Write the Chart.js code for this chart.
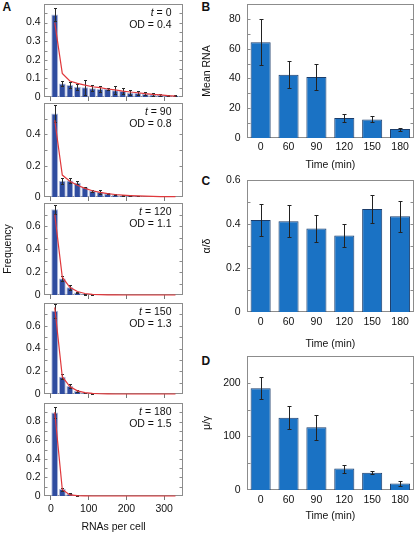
<!DOCTYPE html>
<html>
<head>
<meta charset="utf-8">
<script src="https://cdn.jsdelivr.net/npm/chart.js@4.4.0/dist/chart.umd.min.js"></script>
<style>
  body { margin: 0; background: #fff; width: 419px; height: 534px; position: relative; overflow: hidden; }
  canvas { position: absolute; }
  .lbl { position: absolute; font: bold 12px 'Liberation Sans', Arial, sans-serif; line-height: 12px; color: #111; }
</style>
</head>
<body>
<div class="lbl" style="left:2.5px;top:1px">A</div>
<div class="lbl" style="left:201.5px;top:1px">B</div>
<div class="lbl" style="left:201.5px;top:174.5px">C</div>
<div class="lbl" style="left:201.5px;top:354.5px">D</div>

<canvas id="a1" width="186" height="104" style="left:0;top:1px"></canvas>
<canvas id="a2" width="186" height="105" style="left:0;top:100px"></canvas>
<canvas id="a3" width="186" height="103" style="left:0;top:200px"></canvas>
<canvas id="a4" width="186" height="102" style="left:0;top:300px"></canvas>
<canvas id="a5" width="186" height="133" style="left:0;top:400px"></canvas>
<canvas id="b" width="223" height="171" style="left:196px;top:0"></canvas>
<canvas id="c" width="223" height="180" style="left:196px;top:170px"></canvas>
<canvas id="d" width="223" height="170" style="left:196px;top:352px"></canvas>

<script>
// histogram bins (RNAs per cell)
const bins = [10, 30, 50, 70, 90, 110, 130, 150, 170, 190, 210, 230, 250, 270, 290, 310, 330];
const rnaTicks = [0, 100, 200, 300];

// t = 0, OD = 0.4
const freqT0 = [0.444, 0.073, 0.064, 0.055, 0.052, 0.047, 0.043, 0.043, 0.036, 0.032, 0.023, 0.021, 0.018, 0.014, 0.011, 0.009, 0.007];
const errT0  = [0.035, 0.015, 0.014, 0.016, 0.04, 0.015, 0.018, 0.008, 0.022, 0.014, 0.012, 0.01, 0.008, 0.006, 0.005, 0.004, 0.003];
const fitT0  = [0.40, 0.127, 0.086, 0.073, 0.064, 0.055, 0.05, 0.043, 0.038, 0.032, 0.027, 0.023, 0.018, 0.014, 0.011, 0.007, 0.005];
const ticksT0 = [0, 0.1, 0.2, 0.3, 0.4];

// t = 90, OD = 0.8
const freqT90 = [0.533, 0.104, 0.106, 0.091, 0.062, 0.04, 0.032, 0.022, 0.015, 0.01, 0.008, 0.006, 0.004, 0.003, 0.002, 0.002, 0.001];
const errT90  = [0.053, 0.02, 0.015, 0.01, 0.005, 0.006, 0.01, 0.004, 0.003, 0.003, 0.002, 0.002, 0, 0, 0, 0, 0];
const fitT90  = [0.49, 0.14, 0.10, 0.075, 0.055, 0.04, 0.03, 0.022, 0.016, 0.012, 0.009, 0.007, 0.005, 0.004, 0.003, 0.002, 0.002];
const ticksT90 = [0, 0.2, 0.4];

// t = 120, OD = 1.1
const freqT120 = [0.745, 0.143, 0.067, 0.022, 0.008, 0.004, 0.002, 0.001, 0.001, 0, 0, 0, 0, 0, 0, 0, 0];
const errT120  = [0.04, 0.02, 0.02, 0.008, 0.004, 0.002, 0, 0, 0, 0, 0, 0, 0, 0, 0, 0, 0];
const fitT120  = [0.70, 0.155, 0.067, 0.03, 0.013, 0.006, 0.003, 0.001, 0.001, 0, 0, 0, 0, 0, 0, 0, 0];
const ticksT120 = [0, 0.2, 0.4, 0.6];

// t = 150, OD = 1.3
const freqT150 = [0.731, 0.152, 0.07, 0.026, 0.009, 0.004, 0.002, 0.001, 0, 0, 0, 0, 0, 0, 0, 0, 0];
const errT150  = [0.06, 0.02, 0.015, 0.01, 0.004, 0.002, 0, 0, 0, 0, 0, 0, 0, 0, 0, 0, 0];
const fitT150  = [0.76, 0.152, 0.065, 0.028, 0.012, 0.005, 0.002, 0.001, 0, 0, 0, 0, 0, 0, 0, 0, 0];
const ticksT150 = [0, 0.2, 0.4, 0.6];

// t = 180, OD = 1.5
const freqT180 = [0.897, 0.074, 0.025, 0.007, 0.002, 0.001, 0, 0, 0, 0, 0, 0, 0, 0, 0, 0, 0];
const errT180  = [0.06, 0.015, 0.008, 0.003, 0, 0, 0, 0, 0, 0, 0, 0, 0, 0, 0, 0, 0];
const fitT180  = [0.90, 0.07, 0.012, 0.003, 0.001, 0, 0, 0, 0, 0, 0, 0, 0, 0, 0, 0, 0];
const ticksT180 = [0, 0.2, 0.4, 0.6, 0.8];

// panels B-D
const times = ['0', '60', '90', '120', '150', '180'];
const meanRna = [64.3, 42.5, 41, 13.5, 12.5, 6];
const meanRnaErr = [15.5, 9, 9, 2.5, 2, 1];
const meanRnaTicks = [0, 20, 40, 60, 80];
const alphaDelta = [0.418, 0.413, 0.38, 0.348, 0.468, 0.435];
const alphaDeltaErr = [0.072, 0.072, 0.06, 0.052, 0.063, 0.07];
const alphaDeltaTicks = [0, 0.2, 0.4, 0.6];
const muGamma = [190, 135, 117, 40, 32, 12];
const muGammaErr = [21, 22, 23, 7.5, 3, 4.5];
const muGammaTicks = [0, 100, 200];

const FONT = "'Liberation Sans', Arial, sans-serif";
Chart.defaults.font.family = FONT;
Chart.defaults.font.size = 10.5;
Chart.defaults.color = '#111';

// frame + inner ticks under the data, error bars, t/OD text
const extras = {
    id: 'extras',
    beforeDatasetsDraw(chart, args, opts) {
        const {ctx, chartArea: a} = chart;
        const ys = chart.scales.y;
        const L = Math.round(a.left) + 0.5, R = Math.round(a.right) - 0.5;
        const T = Math.round(a.top) + 0.5, B = Math.round(a.bottom) - 0.5;
        ctx.save();
        ctx.strokeStyle = '#8c8c8c';
        ctx.lineWidth = 1;
        // small inward ticks on both sides
        const tk = opts.ticks, half = (tk[1] - tk[0]) / 2;
        ctx.beginPath();
        for (let v = half; v < ys.max - 1e-9; v += half) {
            const y = Math.round(ys.getPixelForValue(v)) + 0.5;
            ctx.moveTo(L, y); ctx.lineTo(L + 3, y);
            ctx.moveTo(R, y); ctx.lineTo(R - 3, y);
        }
        ctx.stroke();
        ctx.strokeRect(L, T, R - L, B - T);
        ctx.restore();
    },
    afterDatasetDraw(chart, args, opts) {
        if (args.meta.type !== 'bar' || !opts.err) return;
        const ys = chart.scales.y, ctx = chart.ctx;
        const vals = chart.data.datasets[args.index].data;
        ctx.save();
        ctx.strokeStyle = opts.errColor;
        ctx.lineWidth = 1;
        args.meta.data.forEach((bar, i) => {
            const e = opts.err[i];
            if (!e) return;
            const v = typeof vals[i] === 'object' ? vals[i].y : vals[i];
            const x = Math.round(bar.x) + 0.5;
            const y1 = Math.round(ys.getPixelForValue(v - e)) + 0.5;
            const y2 = Math.round(ys.getPixelForValue(v + e)) + 0.5;
            const c = opts.cap;
            ctx.beginPath();
            ctx.moveTo(x, y1); ctx.lineTo(x, y2);
            ctx.moveTo(x - c, y1); ctx.lineTo(x + c, y1);
            ctx.moveTo(x - c, y2); ctx.lineTo(x + c, y2);
            ctx.stroke();
        });
        ctx.restore();
    },
    afterDraw(chart, args, opts) {
        if (!opts.t) return;
        const {ctx, chartArea: a} = chart;
        ctx.save();
        ctx.fillStyle = '#111';
        ctx.textBaseline = 'middle';
        ctx.textAlign = 'right';
        const xr = a.right - 11.5;
        ctx.font = '10.5px ' + FONT;
        const rest = ' = ' + opts.t;
        ctx.fillText(rest, xr, a.top + 8.7);
        const w = ctx.measureText(rest).width;
        ctx.fillText('OD = ' + opts.od, xr, a.top + 21.5);
        ctx.font = 'italic 10.5px ' + FONT;
        ctx.fillText('t', xr - w, a.top + 8.7);
        ctx.restore();
    }
};
Chart.register(extras);

// keep the label overhang from shrinking the plot area
function noPadY(s, w) { s.width = w; s.paddingTop = 0; s.paddingBottom = 0; }
function noPadX(s, h) { s.height = h; s.paddingLeft = 0; s.paddingRight = 0; }

function histPanel(id, freq, err, fit, yMax, yTicks, t, od, opt) {
    const last = !!opt.last;
    new Chart(document.getElementById(id), {
        type: 'bar',
        data: {
            datasets: [{
                type: 'line',
                data: bins.map((b, i) => ({x: b, y: fit[i]})),
                borderColor: '#e0383c',
                borderWidth: 1.2,
                pointRadius: 0,
                tension: 0,
                clip: 3,
                order: 0
            }, {
                type: 'bar',
                data: bins.map((b, i) => ({x: b, y: freq[i]})),
                backgroundColor: '#2f4c9f',
                borderColor: '#b4bedc',
                borderWidth: 1,
                barPercentage: 0.92,
                categoryPercentage: 1,
                order: 1
            }]
        },
        options: {
            responsive: false,
            animation: false,
            layout: {padding: {top: 3, right: 3, left: 0, bottom: last ? 0 : 3}},
            plugins: {
                legend: {display: false},
                tooltip: {enabled: false},
                extras: {err: err, errColor: '#2a2a2a', cap: 1.5, ticks: yTicks, t: t, od: od}
            },
            scales: {
                x: {
                    type: 'linear', min: -18.5, max: 350, offset: false,
                    afterBuildTicks: s => { s.ticks = rnaTicks.map(v => ({value: v})); },
                    afterFit: s => noPadX(s, last ? 37 : 5),
                    grid: {display: true, drawOnChartArea: false, drawTicks: true, tickLength: 4, color: '#777', offset: false},
                    border: {display: false},
                    ticks: {display: last, padding: 2.7, maxRotation: 0},
                    title: {display: last, text: 'RNAs per cell', padding: 0}
                },
                y: {
                    min: 0, max: yMax,
                    afterBuildTicks: s => { s.ticks = yTicks.map(v => ({value: v})); },
                    afterFit: s => noPadY(s, 44),
                    grid: {display: false, drawTicks: false},
                    border: {display: false},
                    ticks: {padding: 3.3, callback: v => String(v)},
                    title: {display: !!opt.ytitle, text: opt.ytitle || '', padding: {top: 1.4, bottom: 0}}
                }
            }
        }
    });
}

histPanel('a1', freqT0, errT0, fitT0, 0.5, ticksT0, '0', '0.4', {});
histPanel('a2', freqT90, errT90, fitT90, 0.6, ticksT90, '90', '0.8', {});
histPanel('a3', freqT120, errT120, fitT120, 0.8, ticksT120, '120', '1.1', {ytitle: 'Frequency'});
histPanel('a4', freqT150, errT150, fitT150, 0.8, ticksT150, '150', '1.3', {});
histPanel('a5', freqT180, errT180, fitT180, 1.0, ticksT180, '180', '1.5', {last: true});

function barPanel(id, values, err, yMax, yTicks, ytitle, padTop, xH, xPad) {
    new Chart(document.getElementById(id), {
        type: 'bar',
        data: {
            labels: times,
            datasets: [{
                data: values,
                backgroundColor: '#1a72c4',
                borderColor: '#1b3d6b',
                borderWidth: 1,
                barPercentage: 0.72,
                categoryPercentage: 1
            }]
        },
        options: {
            responsive: false,
            animation: false,
            layout: {padding: {top: padTop, right: 5, left: 0, bottom: 0}},
            plugins: {
                legend: {display: false},
                tooltip: {enabled: false},
                extras: {err: err, errColor: '#222', cap: 2, ticks: yTicks}
            },
            scales: {
                x: {
                    afterFit: s => noPadX(s, xH),
                    grid: {display: false, drawTicks: false},
                    border: {display: false},
                    ticks: {padding: xPad, maxRotation: 0},
                    title: {display: true, text: 'Time (min)', padding: 0}
                },
                y: {
                    min: 0, max: yMax,
                    afterBuildTicks: s => { s.ticks = yTicks.map(v => ({value: v})); },
                    afterFit: s => noPadY(s, 50.7),
                    grid: {display: false, drawTicks: false},
                    border: {display: false},
                    ticks: {padding: 6, callback: v => String(v)},
                    title: {display: true, text: ytitle, padding: {top: 4.4, bottom: 0}}
                }
            }
        }
    });
}

barPanel('b', meanRna, meanRnaErr, 90, meanRnaTicks, 'Mean RNA', 4, 33, 2.4);
barPanel('c', alphaDelta, alphaDeltaErr, 0.6, alphaDeltaTicks, 'α/δ', 10, 38, 4);
barPanel('d', muGamma, muGammaErr, 250, muGammaTicks, 'μ/γ', 4, 32, 3.4);
</script>
</body>
</html>
